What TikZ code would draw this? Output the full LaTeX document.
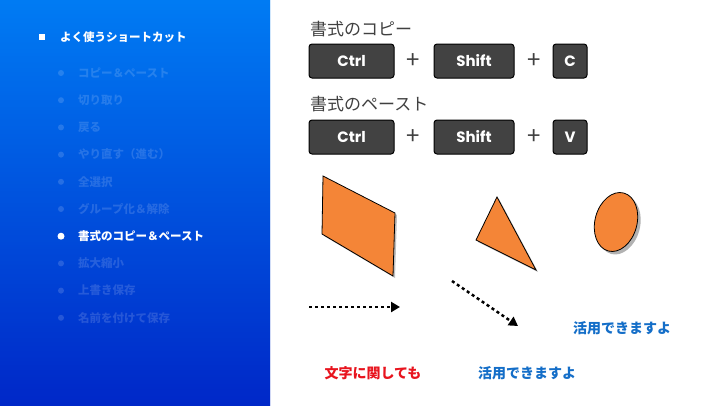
\documentclass[tikz,border=0pt]{standalone}
\usepackage{fontspec}
\setmainfont{Noto Sans CJK JP}
\newfontfamily\keyf{Poppins}
\usetikzlibrary{arrows.meta,shadows,shadings}
\definecolor{keyc}{RGB}{66,66,66}
\definecolor{orng}{RGB}{244,133,55}
\definecolor{myred}{RGB}{232,20,30}
\definecolor{myblue}{RGB}{20,110,200}
\definecolor{txtg}{RGB}{64,64,64}
\definecolor{bgul}{RGB}{0,145,255}
\definecolor{bglr}{RGB}{0,40,200}
\definecolor{bgur}{RGB}{0,90,235}
\definecolor{bgll}{RGB}{0,85,230}
\tikzset{x=1pt,y=-1pt,
 keybox/.style={draw=black,line width=1pt,fill=keyc,rounded corners=3pt,minimum height=34pt,text=white,font=\keyf\bfseries\fontsize{15}{15}\selectfont,inner sep=0pt},
 item/.style={anchor=west,font=\bfseries\fontsize{11.5}{12}\selectfont,text=white,text opacity=0.15,inner sep=0pt},
 dotb/.style={circle,fill=white,fill opacity=0.15,minimum size=6pt,inner sep=0pt},
 plus/.style={font=\fontsize{24}{24}\selectfont,text=txtg,inner sep=0pt},
 title/.style={anchor=west,font=\fontsize{17}{17}\selectfont,text=txtg,inner sep=0pt},
 shp/.style={fill=orng,draw=black,line width=0.8pt},
 darr/.style={line width=2.5pt,dash pattern=on 3pt off 3pt,-{Triangle[length=9pt,width=10pt]}},
 big/.style={font=\bfseries\fontsize{14}{14}\selectfont,inner sep=0pt}}
\begin{document}
\begin{tikzpicture}
\useasboundingbox (0,0) rectangle (720,405);
\fill[white] (0,0) rectangle (720,405);
\shade[left color=bgul,right color=bglr,shading angle=0] (0,0) rectangle (270,405);
\shade[top color=bgul!60!bglr,bottom color=bglr,opacity=0.5] (0,0) rectangle (270,405);
\node[fill=white,minimum size=6.5pt,inner sep=0pt] (sq) at (42,37) {};
\node[anchor=west,font=\bfseries\fontsize{11.5}{12}\selectfont,text=white,inner sep=0pt] (hd) at (60,37) {よく使うショートカット};
\foreach \t [count=\i] in {コピー＆ペースト,切り取り,戻る,やり直す（進む）,全選択,グループ化＆解除,DUMMY,拡大縮小,上書き保存,名前を付けて保存}{
 \pgfmathsetmacro\yy{73+(\i-1)*27.2}
 \ifnum\i=7\else
 \node[dotb] (b\i) at (61,\yy) {};
 \node[item] (t\i) at (78,\yy) {\t};
 \fi}
\node[circle,fill=white,minimum size=7pt,inner sep=0pt] (b7) at (61,236.2) {};
\node[anchor=west,font=\bfseries\fontsize{11.5}{12}\selectfont,text=white,inner sep=0pt] (t7) at (78,236.2) {書式のコピー＆ペースト};
% titles and keys
\node[title] (ti1) at (310,29) {書式のコピー};
\node[keybox,minimum width=85pt] (k1) at (351.5,61) {Ctrl};
\node[plus] (p1) at (413,61) {+};
\node[keybox,minimum width=80pt] (k2) at (474,61) {Shift};
\node[plus] (p2) at (534,61) {+};
\node[keybox,minimum width=34pt] (k3) at (570,61) {C};
\node[title] (ti2) at (310,104) {書式のペースト};
\node[keybox,minimum width=85pt] (k4) at (351.5,137) {Ctrl};
\node[plus] (p3) at (413,137) {+};
\node[keybox,minimum width=80pt] (k5) at (474,137) {Shift};
\node[plus] (p4) at (534,137) {+};
\node[keybox,minimum width=34pt] (k6) at (570,137) {V};
% shapes
\draw[shp,drop shadow={shadow xshift=2pt,shadow yshift=-2pt,opacity=0.5}] (323,176) -- (395,213) -- (393,276) -- (322,234) -- cycle;
\draw[shp,drop shadow={shadow xshift=2pt,shadow yshift=-2pt,opacity=0.5}] (497,197) -- (536,270) -- (476,240) -- cycle;
\draw[shp,drop shadow={shadow xshift=3pt,shadow yshift=-3pt,opacity=0.6},rotate around={-15:(616,222)}] (616,222) ellipse [x radius=21pt,y radius=30pt];
% arrows
\coordinate (a1s) at (309,307); \coordinate (a1e) at (400,307);
\draw[darr] (a1s) -- (a1e);
\coordinate (a2s) at (452,281); \coordinate (a2e) at (518,326);
\draw[darr] (a2s) -- (a2e);
% texts
\node[big,text=myblue] (w1) at (622,328) {活用できますよ};
\node[big,text=myred] (w2) at (373,373) {文字に関しても};
\node[big,text=myblue] (w3) at (527,373) {活用できますよ};
\end{tikzpicture}
\end{document}
